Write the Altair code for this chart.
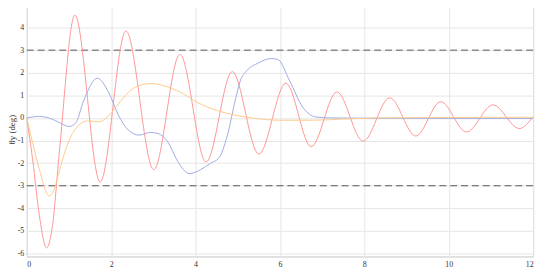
import altair as alt
import pandas as pd

# Red series (oscillating)
red_t = [0, 0.14, 0.30, 0.47, 0.61, 0.77, 1.14, 1.74, 2.35, 3.01, 3.63, 4.25, 4.87,
         5.50, 6.14, 6.74, 7.35, 7.97, 8.60, 9.22, 9.81, 10.42, 11.05, 11.67, 12.0]
red_v = [0, -1.85, -4.33, -5.75, -4.76, -1.56, 4.55, -2.83, 3.85, -2.29, 2.81, -1.95, 2.05,
         -1.60, 1.54, -1.27, 1.15, -1.03, 0.89, -0.80, 0.72, -0.62, 0.58, -0.47, 0.05]

# Blue series
blue_t = [0, 0.30, 0.61, 0.77, 1.00, 1.16, 1.35, 1.67, 1.94, 2.17, 2.41, 2.66, 2.93, 3.11,
          3.34, 3.58, 3.85, 4.12, 4.36, 4.55, 4.75, 4.94, 5.06, 5.21, 5.50, 5.78, 5.95,
          6.23, 6.54, 6.86, 7.20, 8.0, 10.0, 12.0]
blue_v = [0, 0.07, -0.06, -0.20, -0.38, -0.22, 0.77, 1.76, 1.13, 0.13, -0.54, -0.76, -0.64, -0.69,
          -1.05, -1.93, -2.46, -2.29, -2.00, -1.78, -0.80, 0.77, 1.64, 2.08, 2.44, 2.63, 2.59,
          1.64, 0.48, 0.04, 0.0, -0.01, -0.02, -0.02]

# Orange series
orange_t = [0, 0.18, 0.30, 0.53, 0.65, 0.77, 0.92, 1.08, 1.23, 1.45, 1.70, 1.92, 2.17, 2.41,
            2.64, 2.95, 3.26, 3.65, 4.04, 4.51, 4.98, 5.45, 6.0, 6.8, 7.5, 8.3, 10.0, 12.0]
orange_v = [0, -1.42, -2.29, -3.45, -3.16, -2.36, -1.41, -0.69, -0.33, -0.13, -0.17, 0.05, 0.62, 1.13,
            1.42, 1.52, 1.42, 1.13, 0.69, 0.33, 0.11, -0.03, -0.10, -0.10, -0.05, 0.0, 0.02, 0.03]

limits = [3, -3]
x_ticks = [0, 2, 4, 6, 8, 10, 12]
y_ticks = [-6, -5, -4, -3, -2, -1, 0, 1, 2, 3, 4]

series_names = ["red", "blue", "orange"]
series_colors = ["#ff9595", "#9eace4", "#ffca8a"]

frames = []
for name, t, v in [("red", red_t, red_v), ("blue", blue_t, blue_v), ("orange", orange_t, orange_v)]:
    frames.append(pd.DataFrame({"t": t, "v": v, "s": name}))
df = pd.concat(frames, ignore_index=True)

FONT = "Liberation Serif"

x_axis = alt.Axis(values=x_ticks, title=None, grid=True, ticks=False,
                  domain=False, labelPadding=4, labelOverlap=False,
                  labelExpr="'' + datum.value")
y_axis = alt.Axis(values=y_ticks, title="θy (deg)", grid=True, ticks=False,
                  domain=False, labelPadding=3, labelOverlap=False,
                  labelExpr="'' + datum.value",
                  titleX=-10, titleY=124, titleAngle=270, titleBaseline="bottom",
                  titleAlign="center", titleFontSize=9)
x_scale = alt.Scale(domain=[0, 12], nice=False)
y_scale = alt.Scale(domain=[-6.13, 4.92], nice=False, zero=False)

lines = alt.Chart(df).mark_line(strokeWidth=1, interpolate="monotone").encode(
    x=alt.X("t:Q", scale=x_scale, axis=x_axis),
    y=alt.Y("v:Q", scale=y_scale, axis=y_axis),
    color=alt.Color("s:N", scale=alt.Scale(domain=series_names, range=series_colors), legend=None),
    detail="s:N",
)

rules = alt.Chart(pd.DataFrame({"v": limits})).mark_rule(
    color="#555555", strokeWidth=1, strokeDash=[7, 4]
).encode(y=alt.Y("v:Q", scale=y_scale, axis=y_axis))

chart = alt.layer(rules, lines).properties(
    width=513, height=253,
    padding={"left": 19, "top": -3, "right": 9, "bottom": 15},
    autosize=alt.AutoSizeParams(type="none"),
).configure_view(stroke="#c4c4c4", strokeWidth=1).configure_axis(
    labelFont=FONT, titleFont=FONT, labelFontSize=8, titleFontSize=9,
    labelColor="#333333", titleColor="#333333", titleFontWeight="normal",
    gridColor="#e6e6e6", gridWidth=1, labelOverlap=False,
)

chart.save("out.html", embed_options={"renderer": "svg", "actions": False})
